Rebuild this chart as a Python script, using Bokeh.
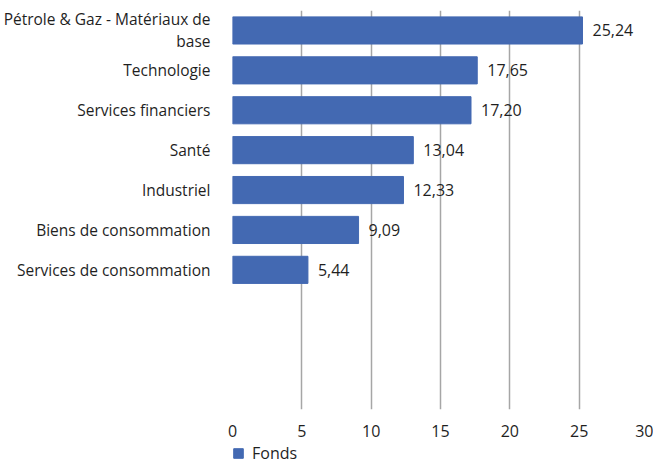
from bokeh.plotting import figure
from bokeh.layouts import column
from bokeh.models import ColumnDataSource, FactorRange, Range1d, Legend, LegendItem, FixedTicker
from bokeh.core.properties import value
from bokeh.embed import file_html
from bokeh.resources import INLINE

categories = ["Pétrole & Gaz - Matériaux de\nbase", "Technologie", "Services financiers",
              "Santé", "Industriel", "Biens de consommation", "Services de consommation"]
values = [25.24, 17.65, 17.20, 13.04, 12.33, 9.09, 5.44]
blank_slots = [" ", "  ", "   "]
x_ticks = [0, 5, 10, 15, 20, 25, 30]
series_name = "Fonds"

labels = [f"{v:.2f}".replace(".", ",") for v in values]
factors = list(reversed(categories + blank_slots))

FONT = "Open Sans"
BAR = "#4369B2"
TXT = "#1f1f1f"

src = ColumnDataSource(dict(cat=categories, val=values, lab=labels))

p = figure(width=653, height=440, y_range=FactorRange(factors=factors, range_padding=0),
           x_range=Range1d(0, 30), output_backend="svg", toolbar_location=None,
           min_border_left=232, min_border_right=5, min_border_top=10, min_border_bottom=31)
p.outline_line_color = None
p.background_fill_color = "white"
p.border_fill_color = "white"

r = p.hbar(y="cat", right="val", height=0.68, left=0, source=src, color=BAR)
p.text(x="val", y="cat", text="lab", source=src, x_offset=10, text_baseline="middle",
       text_align="left", text_font=value(FONT), text_font_size="16px", text_color=TXT)

p.xaxis.ticker = FixedTicker(ticks=x_ticks)
p.xaxis.axis_line_color = None
p.xaxis.major_tick_line_color = None
p.xaxis.minor_tick_line_color = None
p.xaxis.major_label_text_font = FONT
p.xaxis.major_label_text_font_size = "16px"
p.xaxis.major_label_text_color = TXT
p.xaxis.major_label_standoff = 9

p.yaxis.axis_line_color = None
p.yaxis.major_tick_line_color = None
p.yaxis.minor_tick_line_color = None
p.yaxis.major_label_text_font = FONT
p.yaxis.major_label_text_font_size = "15.5px"
p.yaxis.major_label_text_color = TXT
p.yaxis.major_label_text_line_height = 1.0
p.yaxis.major_label_standoff = 16

p.ygrid.grid_line_color = None
p.xgrid.grid_line_color = "#a6a6a6"
p.xgrid.grid_line_width = 1.5

# legend strip below the chart
p2 = figure(width=653, height=24, x_range=Range1d(0, 1), y_range=Range1d(0, 1),
            output_backend="svg", toolbar_location=None,
            min_border_left=232, min_border_right=5, min_border_top=0, min_border_bottom=0)
p2.axis.visible = False
p2.grid.grid_line_color = None
p2.outline_line_color = None
r2 = p2.hbar(y=[-5], left=[-5], right=[-4], height=0.5, color=BAR)
legend = Legend(items=[LegendItem(label=series_name, renderers=[r2])], location=(0, 0),
                orientation="horizontal", border_line_color=None, background_fill_alpha=0,
                label_text_font=FONT, label_text_font_size="16px", label_text_color=TXT,
                glyph_width=12, glyph_height=12, label_standoff=8, padding=0, margin=0,
                label_height=16)
p2.add_layout(legend, "center")

layout = column(p, p2, spacing=0)
open("out.html", "w").write(file_html(layout, INLINE))
